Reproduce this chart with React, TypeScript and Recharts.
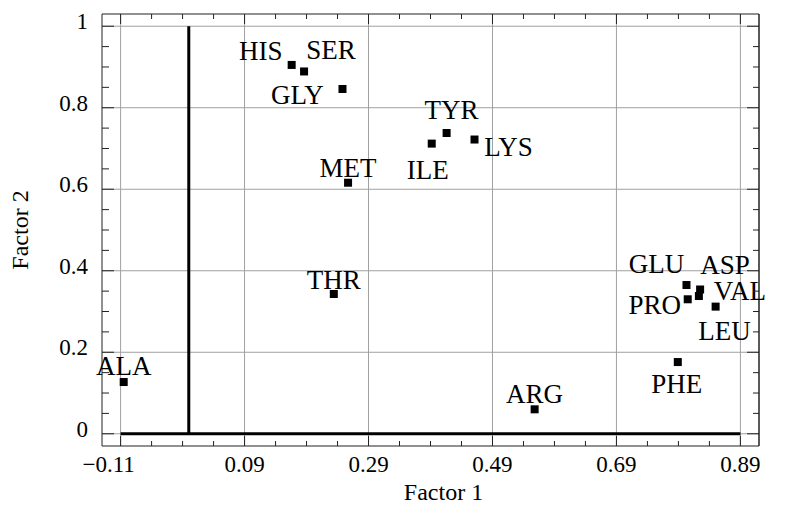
import React from 'react'
import { ScatterChart, Scatter, XAxis, YAxis, ReferenceLine, Label } from 'recharts'

// amino acid loadings on the two factors
const residues = ['HIS', 'SER', 'GLY', 'MET', 'TYR', 'ILE', 'LYS', 'THR', 'ALA', 'ARG', 'PHE', 'GLU', 'ASP', 'VAL', 'PRO', 'LEU']
const factor1 = [0.166, 0.186, 0.248, 0.257, 0.416, 0.392, 0.461, 0.234, -0.105, 0.558, 0.789, 0.803, 0.825, 0.823, 0.805, 0.85]
const factor2 = [0.905, 0.889, 0.846, 0.616, 0.738, 0.712, 0.722, 0.343, 0.127, 0.06, 0.176, 0.365, 0.354, 0.338, 0.33, 0.312]

const xTicks = [-0.11, 0.09, 0.29, 0.49, 0.69, 0.89]
const yTicks = [0, 0.2, 0.4, 0.6, 0.8, 1]
const xDomain: [number, number] = [-0.14, 0.92]
const yDomain: [number, number] = [-0.03, 1.03]

// label placement around each marker, px: [dx to text centre, dy to baseline]
const labelOffsets: Record<string, [number, number]> = {
  HIS: [-31, -5], SER: [27, -12], GLY: [-45, 15], MET: [0, -6],
  TYR: [5, -14], ILE: [-4, 35], LYS: [34, 16], THR: [0, -5],
  ALA: [0, -7], ARG: [0, -6], PHE: [-1, 31], GLU: [-30, -12],
  ASP: [25, -16], VAL: [41, 4], PRO: [-33, 15], LEU: [9, 33],
}

const FONT = 'Liberation Serif'
const FRAME = '#222'
const GRID = '#a0a0a0'

const data = residues.map((name, i) => ({ name, f1: factor1[i], f2: factor2[i] }))

// 4 minor steps between majors
function subdivide(ticks: number[], n: number) {
  const out: number[] = []
  for (let i = 0; i < ticks.length - 1; i++) {
    const step = (ticks[i + 1] - ticks[i]) / n
    for (let k = 0; k < n; k++) out.push(+(ticks[i] + k * step).toFixed(4))
  }
  out.push(ticks[ticks.length - 1])
  return out
}
const xAll = subdivide(xTicks, 4)
const yAll = subdivide(yTicks, 4)

const isMajor = (v: number, majors: number[]) => majors.some((m) => Math.abs(m - v) < 1e-6)
const fmt = (v: number) => (v < 0 ? '\u2212' + Math.abs(v) : String(v))

function BottomTick({ x, y, payload }: any) {
  const v = payload.value
  const major = isMajor(v, xTicks)
  return (
    <g>
      <line x1={x} x2={x} y1={y} y2={y - (major ? 10 : 5)} stroke={FRAME} />
      {major && (
        <text x={x - (v < 0 ? 12 : 0)} y={y + 26} textAnchor="middle" fontSize={23} fontFamily={FONT} fill="#000">
          {fmt(v)}
        </text>
      )}
    </g>
  )
}

function TopTick({ x, y, payload }: any) {
  const major = isMajor(payload.value, xTicks)
  return <line x1={x} x2={x} y1={y} y2={y + (major ? 10 : 5)} stroke={FRAME} />
}

function LeftTick({ x, y, payload }: any) {
  const major = isMajor(payload.value, yTicks)
  return (
    <g>
      <line x1={x} x2={x + (major ? 12 : 7)} y1={y} y2={y} stroke={FRAME} />
      {major && (
        <text x={x - 14} y={y + 3} textAnchor="end" fontSize={23} fontFamily={FONT} fill="#000">
          {fmt(payload.value)}
        </text>
      )}
    </g>
  )
}

function RightTick({ x, y, payload }: any) {
  const major = isMajor(payload.value, yTicks)
  return <line x1={x} x2={x - (major ? 12 : 6)} y1={y} y2={y} stroke={FRAME} />
}

function PointMark({ cx, cy, payload }: any) {
  const [dx, dy] = labelOffsets[payload.name] ?? [0, -8]
  return (
    <g>
      <rect x={cx - 4} y={cy - 4} width={8} height={8} fill="#000" />
      <text x={cx + dx} y={cy + dy} textAnchor="middle" fontSize={27} fontFamily={FONT} fill="#000">
        {payload.name}
      </text>
    </g>
  )
}

const NoMark = () => <g />

export default function App() {
  return (
    <ScatterChart width={770} height={496} margin={{ top: 5, right: 18, bottom: 0, left: 0 }}>
      <XAxis
        xAxisId="b" type="number" dataKey="f1" domain={xDomain}
        ticks={xAll} interval={0} tick={<BottomTick />} tickLine={false} tickSize={0} tickMargin={0}
        height={58} axisLine={{ stroke: FRAME }}
      >
        <Label
          content={({ viewBox }: any) => (
            <text x={viewBox.x + viewBox.width / 2 + 13} y={viewBox.y + 54} textAnchor="middle" fontSize={24} fontFamily={FONT} fill="#000">
              Factor 1
            </text>
          )}
        />
      </XAxis>
      <XAxis
        xAxisId="t" orientation="top" type="number" dataKey="f1" domain={xDomain}
        ticks={xAll} interval={0} tick={<TopTick />} tickLine={false} tickSize={0} tickMargin={0}
        height={1} axisLine={{ stroke: FRAME }}
      />
      <YAxis
        yAxisId="l" type="number" dataKey="f2" domain={yDomain}
        ticks={yAll} interval={0} tick={<LeftTick />} tickLine={false} tickSize={0} tickMargin={0}
        width={94} axisLine={{ stroke: FRAME }}
      >
        <Label
          content={({ viewBox }: any) => {
            const cx = viewBox.x + 20
            const cy = viewBox.y + viewBox.height / 2
            return (
              <text transform={`translate(${cx},${cy}) rotate(-90)`} textAnchor="middle" fontSize={24} fontFamily={FONT} fill="#000">
                Factor 2
              </text>
            )
          }}
        />
      </YAxis>
      <YAxis
        yAxisId="r" orientation="right" type="number" dataKey="f2" domain={yDomain}
        ticks={yAll} interval={0} tick={<RightTick />} tickLine={false} tickSize={0} tickMargin={0}
        width={1} axisLine={{ stroke: FRAME, strokeWidth: 1.5 }}
      />

      {xTicks.map((v) => (
        <ReferenceLine key={'gx' + v} xAxisId="b" yAxisId="l" x={v} stroke={GRID} strokeWidth={1} />
      ))}
      {yTicks.map((v) => (
        <ReferenceLine key={'gy' + v} xAxisId="b" yAxisId="l" y={v} stroke={GRID} strokeWidth={1} />
      ))}

      <ReferenceLine
        xAxisId="b" yAxisId="l" stroke="#000" strokeWidth={3}
        segment={[{ x: xTicks[0], y: 0 }, { x: xTicks[xTicks.length - 1], y: 0 }]}
      />
      <ReferenceLine
        xAxisId="b" yAxisId="l" stroke="#000" strokeWidth={3}
        segment={[{ x: 0, y: yTicks[0] }, { x: 0, y: yTicks[yTicks.length - 1] }]}
      />

      {/* ties the frame axes (top/right) to the same data */}
      <Scatter data={data} xAxisId="t" yAxisId="r" shape={<NoMark />} isAnimationActive={false} />
      <Scatter data={data} xAxisId="b" yAxisId="l" shape={<PointMark />} isAnimationActive={false} />
    </ScatterChart>
  )
}
